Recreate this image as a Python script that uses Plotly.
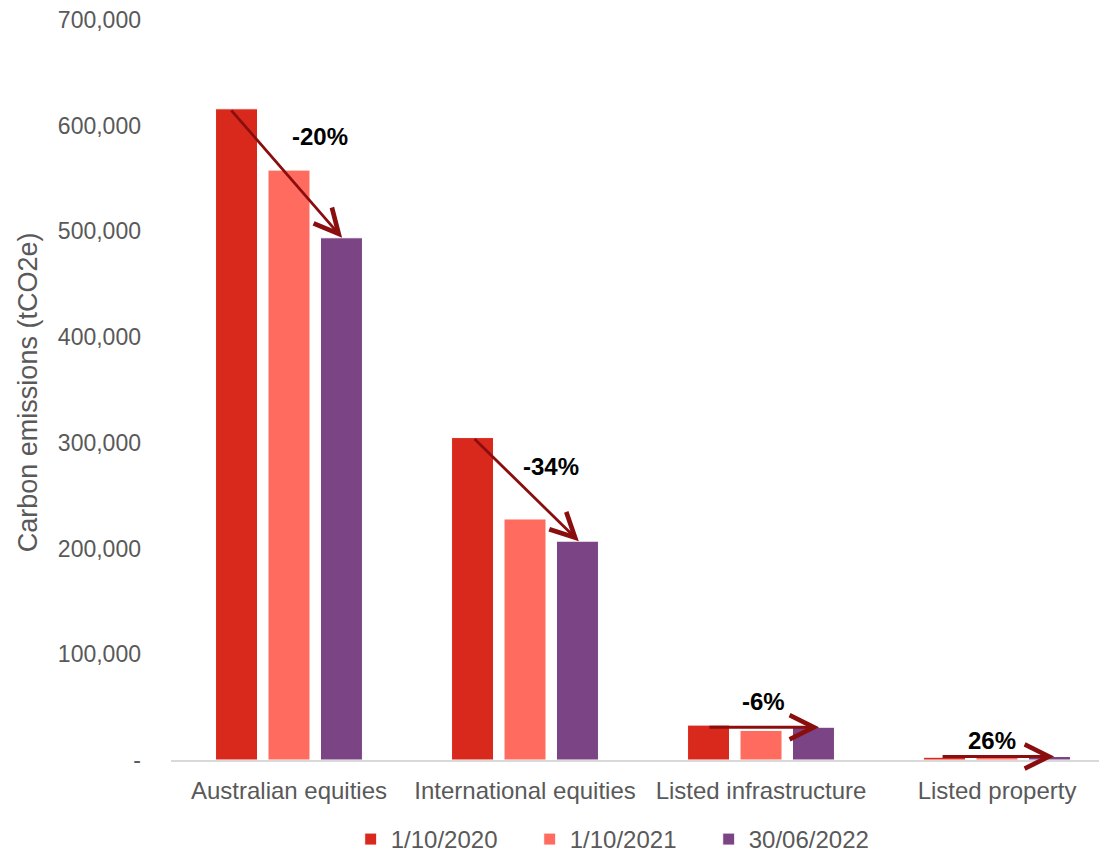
import plotly.graph_objects as go

categories = ["Australian equities", "International equities", "Listed infrastructure", "Listed property"]
series_names = ["1/10/2020", "1/10/2021", "30/06/2022"]
s2020 = [616000, 305000, 33000, 2600]
s2021 = [558000, 228000, 28000, 2800]
s2022 = [494000, 207000, 31000, 3300]
changes = ["-20%", "-34%", "-6%", "26%"]
y_ticks = [0, 100000, 200000, 300000, 400000, 500000, 600000, 700000]
y_ticktext = ["-", "100,000", "200,000", "300,000", "400,000", "500,000", "600,000", "700,000"]

colors = ["#D9291C", "#FF6B5E", "#7B4585"]
arrow_color = "#8B0E0E"
FONT = "Liberation Sans, Arial, sans-serif"
GREY = "#595959"
X_RANGE = [-0.5, 3.466]

fig = go.Figure()
for name, vals, col in zip(series_names, [s2020, s2021, s2022], colors):
    fig.add_trace(go.Bar(
        x=categories, y=vals, name=name,
        marker=dict(color=col, line=dict(color="white", width=1)),
    ))

# invisible overlay axis so arrows/labels can be offset within each category
fig.add_trace(go.Scatter(x=[X_RANGE[0]], y=[0], xaxis="x2", mode="markers",
                         marker=dict(size=0, opacity=0), showlegend=False,
                         hoverinfo="skip"))

arrow_from = [s2020[0], s2020[1], s2022[2], s2022[3]]
arrow_to = [s2022[0], s2022[1], s2022[2], s2022[3]]
start_off = [-0.25, -0.22, -0.225, -0.237]
end_off = [0.225, 0.228, 0.246, 0.242]
for i in range(len(categories)):
    fig.add_annotation(
        x=i + end_off[i], y=arrow_to[i], xref="x2", yref="y",
        ax=i + start_off[i], ay=arrow_from[i], axref="x2", ayref="y",
        text="", showarrow=True, arrowhead=5, arrowsize=1.7,
        arrowwidth=2.8, arrowcolor=arrow_color, standoff=0,
    )

label_off = [0.13, 0.11, 0.01, -0.02]
label_y = [590000, 278000, 55000, 18000]
for i, txt in enumerate(changes):
    fig.add_annotation(
        x=i + label_off[i], y=label_y[i], xref="x2", yref="y",
        text="<b>%s</b>" % txt, showarrow=False,
        font=dict(family=FONT, size=24, color="black"),
    )

# y-axis title
fig.add_annotation(
    x=-0.1528, y=0.497, xref="paper", yref="paper",
    xanchor="center", yanchor="middle", textangle=-90,
    text="Carbon emissions (tCO2e)", showarrow=False,
    font=dict(family=FONT, size=27, color=GREY),
)

fig.update_layout(
    width=1099, height=847,
    paper_bgcolor="white", plot_bgcolor="white",
    margin=dict(l=163, r=0, t=12, b=95, autoexpand=False),
    barmode="group", bargap=0.333, bargroupgap=0.2,
    font=dict(family=FONT, size=21, color=GREY),
    xaxis=dict(showline=True, linecolor="#D9D9D9", linewidth=1.5,
               showgrid=False, ticks="", tickfont=dict(size=24, color=GREY),
               range=X_RANGE, automargin=False, ticklabelstandoff=8),
    xaxis2=dict(overlaying="x", range=X_RANGE, visible=False,
                showgrid=False, zeroline=False),
    yaxis=dict(range=[0, 700000], tickvals=y_ticks, ticktext=y_ticktext,
               showgrid=False, zeroline=False, showline=False,
               tickfont=dict(size=23, color=GREY), automargin=False,
               ticklabelstandoff=29, ticklabeloverflow="allow"),
    legend=dict(orientation="h", x=0.192, xanchor="left", y=-0.077, yanchor="top",
                font=dict(size=24, color=GREY), entrywidth=134,
                itemwidth=30, traceorder="normal"),
)

fig.write_html("out.html")
